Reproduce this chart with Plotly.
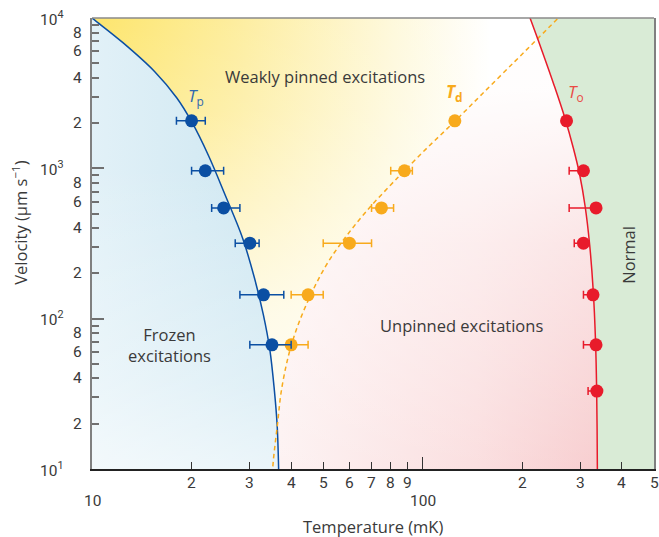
import numpy as np
import plotly.graph_objects as go

# ---------------- data ----------------
# T_p  (pinning temperature, blue)
tp_T = [20, 22, 25, 30, 33, 35]
tp_v = [2070, 964, 545, 318, 144, 67]
tp_err_minus = [2, 2, 2, 2.9, 5, 5]
tp_err_plus = [2, 3, 3, 2, 5, 5]

# T_d  (depinning temperature, orange)
td_T = [125, 88, 75, 60, 45, 40]
td_v = [2070, 964, 545, 318, 144, 67]
td_err_minus = [0, 8, 5, 10, 5, 5]
td_err_plus = [0, 5, 6.6, 10, 5, 5]

# T_o  (onset temperature, red)
to_T = [272, 306, 334, 306, 327, 334, 336]
to_v = [2070, 964, 545, 318, 144, 67, 33]
to_err_minus = [0, 29, 57, 19, 21, 28, 20]
to_err_plus = [0, 0, 0, 0, 0, 0, 0]

# boundary curves (first/last entries
# continue the line just beyond the frame)
tp_curve_T = [8.71, 10, 12.40, 15.48, 18.03, 20.01, 22.51, 25.32, 28.50, 30.97, 32.97,
              34.49, 35.58, 36.28, 36.66, 36.8]
tp_curve_v = [12760, 10000, 6851, 4392, 2949, 2042, 1213, 657.3, 345.3, 187.1, 106.1,
              62.1, 33.6, 19.7, 10, 5]

td_curve_T = [34.9, 35.17, 36.40, 37.27, 38.58, 39.95, 42.32, 46.31, 51.37, 58.23, 67.33,
              80.08, 87.84, 104.3, 125.5, 150.9, 190.2, 223.6, 256.8, 311.9]
td_curve_v = [5, 10, 20.2, 32.0, 48.1, 65.3, 95.4, 151, 231.9, 345.3, 514.2,
              778, 959.5, 1403, 2073, 3112, 5168, 7374, 10000, 15410]

to_curve_T = [196.6, 211.0, 229.8, 249.7, 268.7, 285.0, 298.1, 309.7, 319.5, 327.4,
              332.7, 335.4, 337.1, 337.3]
to_curve_v = [15410, 10000, 5967, 3545, 2171, 1371, 906.6, 555.2, 310.1, 155.7,
              72.4, 33.6, 10, 5]

# tick labels
x_digit_vals = [20, 30, 40, 50, 60, 70, 80, 90, 200, 300, 400, 500]
x_digit_text = ["2", "3", "4", "5", "6", "7", "8", "9", "2", "3", "4", "5"]
x_decade_vals = [10, 100]
x_decade_text = ["10", "100"]
y_digit_vals = [20, 40, 60, 80, 200, 400, 600, 800, 2000, 4000, 6000, 8000]
y_digit_text = ["2", "4", "6", "8"] * 3
y_decade_vals = [10, 100, 1000, 10000]
y_decade_text = ["10<sup>1</sup>", "10<sup>2</sup>", "10<sup>3</sup>", "10<sup>4</sup>"]
x_minor_vals = [20, 30, 40, 50, 60, 70, 80, 90, 200, 300, 400, 500]
y_minor_vals = [v * d for d in (10, 100, 1000) for v in range(2, 10)]

# ---------------- style ----------------
FONT = "Open Sans"
TFONT = "Roboto"
TXT = "#3a3a3a"
BLUE = "#0b4fa3"
ORANGE = "#f8aa1c"
RED = "#e81b2b"
GREEN = "#d9ebd6"
LAB = 16.5
TICK = 15.5

LO, HI, LEFT, RIGHT = 5, 15410, 5, 1000

fig = go.Figure()

def region(xs, ys, grad_type, scale):
    fig.add_trace(go.Scatter(
        x=xs, y=ys, mode="lines", fill="toself",
        line=dict(width=0, shape="spline", smoothing=1),
        fillgradient=dict(type=grad_type, colorscale=scale),
        hoverinfo="skip", showlegend=False))

# pink region (right of T_d)
pink_x = td_curve_T + [RIGHT, RIGHT]
pink_y = td_curve_v + [HI, LO]
region(pink_x, pink_y, "horizontal",
       [[0, "#fdf2f2"], [0.4, "#fadcdd"], [0.67, "#f6c7c9"], [1, "#f6c7c9"]])
region(pink_x, pink_y, "vertical",
       [[0, "rgba(255,255,255,0)"], [0.5, "rgba(255,255,255,0.5)"], [0.78, "rgba(255,255,255,0.95)"], [1, "rgba(255,255,255,1)"]])

# yellow region (left of T_d)
yel_x = td_curve_T + [LEFT, LEFT]
yel_y = td_curve_v + [HI, LO]
region(yel_x, yel_y, "horizontal",
       [[0, "#fde04c"], [0.17, "#fde04c"], [0.45, "#fdeb92"], [0.7, "#fef8d8"], [0.85, "#ffffff"], [1, "#ffffff"]])
region(yel_x, yel_y, "vertical",
       [[0, "rgba(255,255,255,1)"], [0.35, "rgba(255,255,255,0.75)"], [0.7, "rgba(255,255,255,0.25)"], [1, "rgba(255,255,255,0)"]])

# blue region (left of T_p)
blue_x = tp_curve_T + [LEFT, LEFT]
blue_y = tp_curve_v + [LO, 12760]
region(blue_x, blue_y, "horizontal",
       [[0, "#e8f4f9"], [0.35, "#e4f2f8"], [1, "#cce6f1"]])
region(blue_x, blue_y, "vertical",
       [[0, "rgba(255,255,255,0.8)"], [0.3, "rgba(255,255,255,0.35)"], [0.7, "rgba(255,255,255,0)"], [1, "rgba(255,255,255,0)"]])

# green region (right of T_o)
green_x = to_curve_T + [RIGHT, RIGHT]
green_y = to_curve_v + [LO, HI]
fig.add_trace(go.Scatter(x=green_x, y=green_y, mode="lines", fill="toself",
                         fillcolor=GREEN, line=dict(width=0, shape="spline", smoothing=1),
                         hoverinfo="skip", showlegend=False))

# boundary lines
fig.add_trace(go.Scatter(x=tp_curve_T, y=tp_curve_v, mode="lines",
                         line=dict(color=BLUE, width=1.5, shape="spline", smoothing=1),
                         hoverinfo="skip", showlegend=False))
fig.add_trace(go.Scatter(x=td_curve_T, y=td_curve_v, mode="lines",
                         line=dict(color=ORANGE, width=1.5, shape="spline", smoothing=1,
                                   dash="4.5px,3.5px"),
                         hoverinfo="skip", showlegend=False))
fig.add_trace(go.Scatter(x=to_curve_T, y=to_curve_v, mode="lines",
                         line=dict(color=RED, width=1.5, shape="spline", smoothing=1),
                         hoverinfo="skip", showlegend=False))

# data points
def points(xs, ys, em, ep, color):
    fig.add_trace(go.Scatter(
        x=xs, y=ys, mode="markers",
        marker=dict(size=13, color=color, line=dict(width=0)),
        error_x=dict(type="data", array=ep, arrayminus=em, symmetric=False,
                     color=color, thickness=1.5, width=4),
        showlegend=False))

points(td_T, td_v, td_err_minus, td_err_plus, ORANGE)
points(tp_T, tp_v, tp_err_minus, tp_err_plus, BLUE)
points(to_T, to_v, to_err_minus, to_err_plus, RED)

ann = []
def lab(text, x, y, size=LAB, color=TXT, **kw):
    d = dict(text=text, x=x, y=y, xref="x", yref="y", showarrow=False,
             font=dict(family=FONT, size=size, color=color))
    d.update(kw)
    ann.append(d)

lg = np.log10
lab("Weakly pinned excitations", 1.7048, 3.6095)
lab("Unpinned excitations", 2.1175, 1.9528)
lab("Frozen<br>excitations", 1.235, 1.8264)
lab("Normal", 2.6235, 2.4252, textangle=-90)
lab("<i>T</i><sub>p</sub>", 1.3133, 3.48, size=17, color="#2f68b0")
lab("<b><i>T</i><sub>d</sub></b>", 2.0964, 3.503, size=17, color=ORANGE)
lab("<i>T</i><sub>o</sub>", 2.4639, 3.503, size=17, color="#ea4a44")

# tick labels
tfont = dict(family=TFONT, size=TICK, color=TXT)
for v, t in zip(x_digit_vals, x_digit_text):
    ann.append(dict(text=t, x=lg(v), y=0, xref="x", yref="paper", yanchor="middle",
                    yshift=-14, showarrow=False, font=tfont))
for v, t in zip(x_decade_vals, x_decade_text):
    ann.append(dict(text=t, x=lg(v), y=0, xref="x", yref="paper", yanchor="middle",
                    yshift=-32, showarrow=False, font=tfont))
for v, t in zip(y_digit_vals, y_digit_text):
    ann.append(dict(text=t, x=0, y=lg(v), xref="paper", yref="y", xanchor="right",
                    xshift=-8, showarrow=False, font=tfont))
for v, t in zip(y_decade_vals, y_decade_text):
    ann.append(dict(text=t, x=0, y=lg(v), xref="paper", yref="y", xanchor="right",
                    xshift=-26, showarrow=False, font=tfont))

# axis titles
ann.append(dict(text="Temperature (mK)", x=1.849, y=0, xref="x", yref="paper",
                yanchor="middle", yshift=-57, showarrow=False,
                font=dict(family=FONT, size=LAB, color=TXT)))
ann.append(dict(text="Velocity (μm s<sup>−1</sup>)", x=0, y=2.638, xref="paper", yref="y",
                xanchor="center", xshift=-72, textangle=-90, showarrow=False,
                font=dict(family=FONT, size=LAB, color=TXT)))

fig.update_layout(
    width=659, height=537,
    margin=dict(l=92, r=3, t=18, b=68),
    paper_bgcolor="white", plot_bgcolor="white",
    annotations=ann,
    xaxis=dict(type="log", range=[1, lg(500)], showgrid=False, zeroline=False,
               showline=True, linecolor="#222222", linewidth=1.6,
               ticks="inside", tickvals=x_decade_vals, ticklen=12, tickwidth=1.3,
               tickcolor="#333333", showticklabels=False,
               minor=dict(tickmode="array", tickvals=x_minor_vals, ticks="inside",
                          ticklen=7, tickwidth=1.3, tickcolor="#333333", showgrid=False)),
    yaxis=dict(type="log", range=[1, 4], showgrid=False, zeroline=False,
               showline=True, linecolor="#808080", linewidth=1.8, mirror=True,
               ticks="inside", tickvals=y_decade_vals, ticklen=12, tickwidth=1.5,
               tickcolor="#707070", showticklabels=False,
               minor=dict(tickmode="array", tickvals=y_minor_vals, ticks="inside",
                          ticklen=7, tickwidth=1.5, tickcolor="#707070", showgrid=False)),
    shapes=[dict(type="line", xref="paper", yref="paper", x0=0, x1=1, y0=1, y1=1,
                 line=dict(color="#8a8a8a", width=1.5))],
)

fig.write_html("out.html")
